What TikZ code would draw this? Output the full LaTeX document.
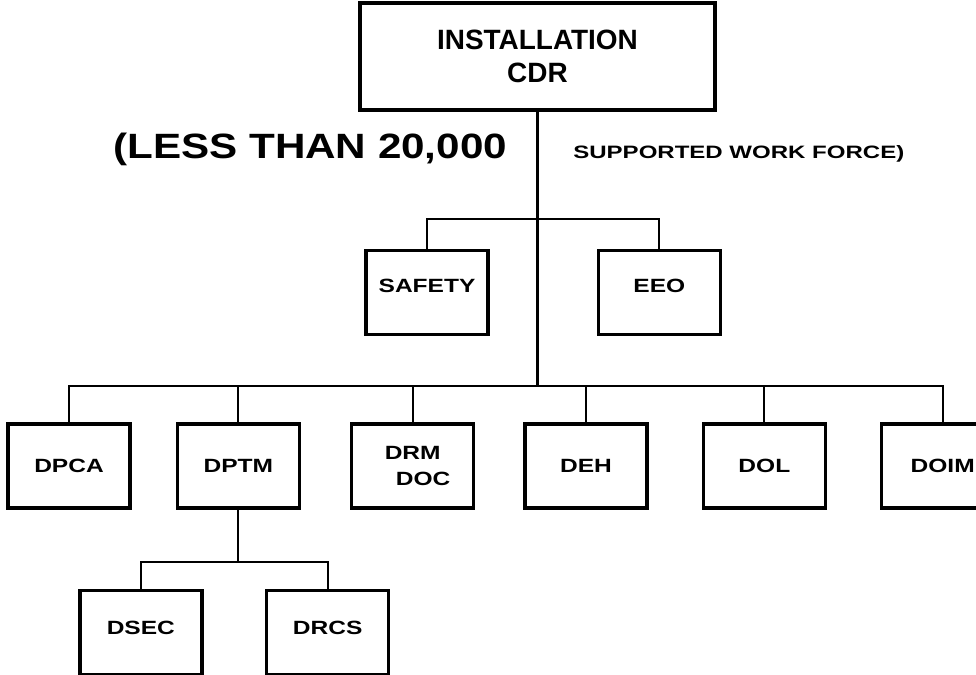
\documentclass[tikz,border=0pt]{standalone}
\usepackage{fontspec}
\setmainfont{Liberation Sans}
\newfontfamily\widefont{Liberation Sans}[FakeStretch=1.28]
\newfontfamily\titlefont{Liberation Sans}[FakeStretch=1.2]
\newfontfamily\notefont{Liberation Sans}[FakeStretch=1.34]
\usepackage{tikz}
\usetikzlibrary{positioning, calc}

\begin{document}
\begin{tikzpicture}[
    every text node part/.style={align=center},
    box/.style={draw=black, line width=1.9pt, fill=white, inner sep=2pt, minimum width=2.44cm, minimum height=1.68cm, font=\widefont\bfseries\fontsize{10.9}{15.3}\selectfont},
    headbox/.style={box, minimum width=7.1cm, minimum height=2.14cm, font=\bfseries\fontsize{15.9}{18.7}\selectfont},
    link/.style={draw=black, line width=1.2pt}
]
\useasboundingbox (0,0) rectangle (19.52,-13.48);

% ==================== COMMANDER ====================
\node[headbox] (cdr) at (10.75,-1.13) {INSTALLATION\\CDR};

\node[anchor=base west, inner sep=0, font=\titlefont\bfseries\fontsize{20}{24}\selectfont] (lessthan) at (2.26,-3.16) {(LESS THAN 20,000};
\node[anchor=base west, inner sep=0, font=\notefont\bfseries\fontsize{10.2}{12}\selectfont] (workforce) at (11.46,-3.16) {SUPPORTED WORK FORCE)};

% ==================== STAFF ====================
\node[box, text depth=0.28cm, below=2.74cm of cdr, xshift=-2.21cm] (safety) {SAFETY};
\node[box, text depth=0.28cm, right=2.14cm of safety] (eeo) {EEO};

% ==================== DIRECTORATES ====================
\node[box] (dpca) at (1.38,-9.32) {DPCA};
\node[box, right=0.88cm of dpca] (dptm) {DPTM};
\node[box, right=0.98cm of dptm, align=left] (drm) {DRM\\\hspace*{11.9pt}DOC};
\node[box, right=0.96cm of drm] (deh) {DEH};
\node[box, right=1.06cm of deh] (dol) {DOL};
\node[box, right=1.06cm of dol] (doim) {DOIM};

% ==================== DPTM DIVISIONS ====================
\node[box, text depth=0.18cm, below=1.58cm of dptm, xshift=-1.95cm] (dsec) {DSEC};
\node[box, text depth=0.18cm, right=1.23cm of dsec] (drcs) {DRCS};

% connectors
\draw[link] (safety.north) -- ++(0,0.6) -| (eeo.north);
\draw[link] (dpca.north) -- ++(0,0.72) coordinate (lowbus) -| (doim.north);
\draw[link] (cdr.south) -- (cdr.south |- lowbus);
\foreach \unit in {dptm, drm, deh, dol}
    \draw[link] (\unit.north) -- (\unit.north |- lowbus);

\draw[link] (dsec.north) -- ++(0,0.54) coordinate (subbus) -| (drcs.north);
\draw[link] (dptm.south) -- (dptm.south |- subbus);

\end{tikzpicture}
\end{document}
